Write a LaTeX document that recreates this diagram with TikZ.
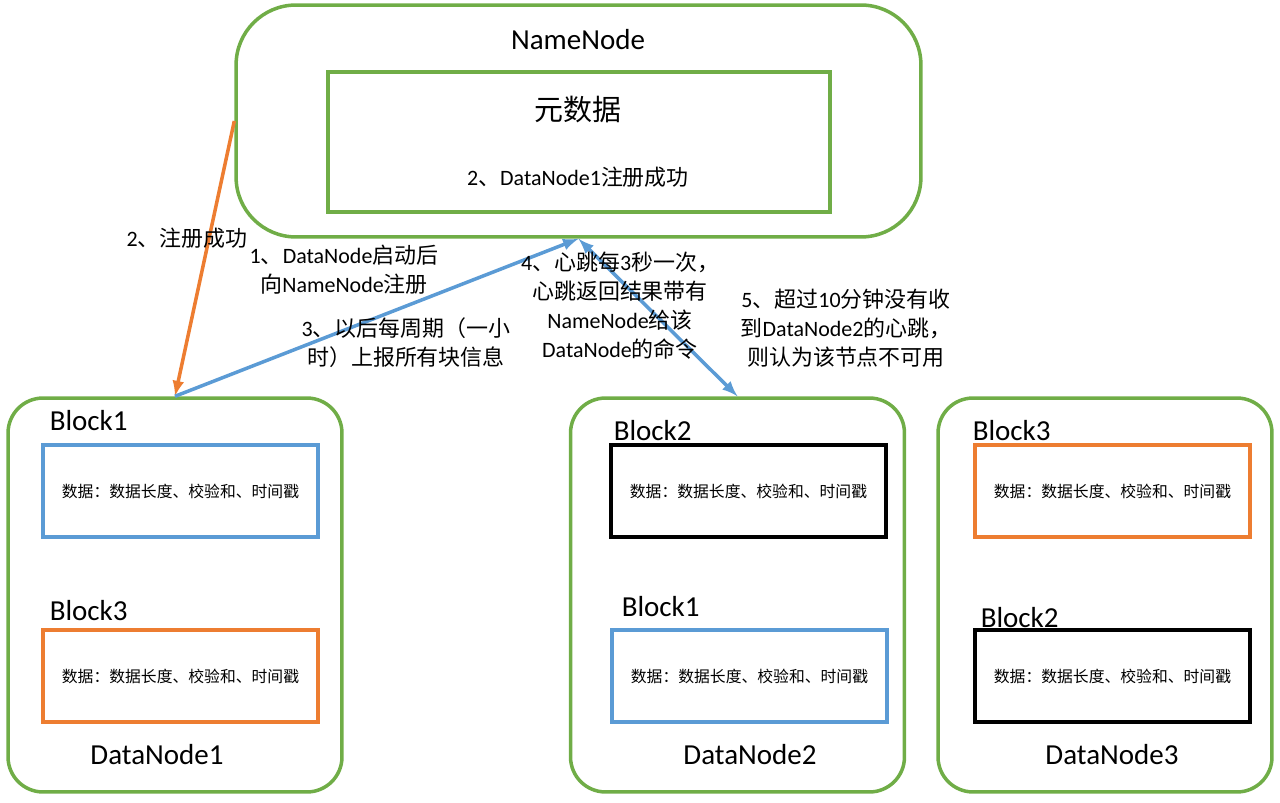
\documentclass[tikz,border=0pt]{standalone}
\usepackage{fontspec}
\setmainfont{Carlito}
\newfontfamily\zh{Noto Sans CJK SC}
\usetikzlibrary{arrows,positioning}
\definecolor{mygreen}{RGB}{112,173,71}
\definecolor{myblue}{RGB}{91,155,213}
\definecolor{myorange}{RGB}{237,125,49}

\begin{document}
\begin{tikzpicture}[
  x=0.02cm,
  y=-0.02cm,
  line width=2pt,
  mybox/.style={
    draw=mygreen,
    rounded corners=#1,
    minimum width=6.68cm,
    minimum height=7.88cm
    },
  mybox/.default=0.7cm,
  myrect/.style={
    draw=#1,
    minimum width=5.5cm,
    minimum height=1.84cm,
    font=\zh\fontsize{9}{11}\selectfont
    },
  mylabel/.style={
    anchor=base west,
    inner sep=0pt,
    font=\fontsize{16.5}{20}\selectfont
    },
  mynote/.style={
    align=center,
    font=\fontsize{12.5}{16.5}\selectfont
    },
  myarrow/.style={
    draw=#1,
    line width=2pt,
    -latex
    }
]
\useasboundingbox (0,0) rectangle (1280,803);

% NameNode
\node[draw=mygreen,rounded corners=1.2cm,minimum width=13.7cm,minimum height=4.64cm]
  (namenode) at (578.5,121) {};
\node[font=\fontsize{16.5}{20}\selectfont] (nnlabel) at (578,40) {NameNode};
\node[draw=mygreen,minimum width=10.04cm,minimum height=2.8cm]
  (meta) at (579,142) {};
\node[font=\zh\fontsize{16.5}{20}\selectfont] (metalabel) at (578,110) {元数据};
\node[mynote] (metanote) at (578,177) {2{\zh 、}DataNode1{\zh 注册成功}};

% DataNodes
\node[mybox] (dn1) at (175,595) {};
\node[mybox] (dn2) at (737.5,595) {};
\node[mybox] (dn3) at (1105,595) {};
\node[font=\fontsize{16.5}{20}\selectfont] (dn1label) at (157,755) {DataNode1};
\node[font=\fontsize{16.5}{20}\selectfont] (dn2label) at (750,755) {DataNode2};
\node[font=\fontsize{16.5}{20}\selectfont] (dn3label) at (1112,755) {DataNode3};

% blocks
\node[myrect=myblue] (dn1b1) at (180.5,491) {数据：数据长度、校验和、时间戳};
\node[myrect=myorange] (dn1b3) at (180.5,676) {数据：数据长度、校验和、时间戳};
\node[myrect=black] (dn2b2) at (748.5,491) {数据：数据长度、校验和、时间戳};
\node[myrect=myblue] (dn2b1) at (749.5,676) {数据：数据长度、校验和、时间戳};
\node[myrect=myorange] (dn3b3) at (1112.5,491) {数据：数据长度、校验和、时间戳};
\node[myrect=black] (dn3b2) at (1112.5,676) {数据：数据长度、校验和、时间戳};
\node[mylabel] (dn1b1label) at (48,430) {Block1};
\node[mylabel] (dn1b3label) at (48,620) {Block3};
\node[mylabel] (dn2b2label) at (612,440) {Block2};
\node[mylabel] (dn2b1label) at (620,616) {Block1};
\node[mylabel] (dn3b3label) at (971,440) {Block3};
\node[mylabel] (dn3b2label) at (979,627) {Block2};

% arrows
\draw[myarrow=myorange] (namenode.west) -- (dn1.north);
\draw[myarrow=myblue] (dn1.north) -- (namenode.south);
\draw[myarrow=myblue,latex-latex] (namenode.south) -- (dn2.north);

% notes
\node[mynote] (note2) at (187,238) {2{\zh 、注册成功}};
\node[mynote] (note1) at (344,270)
  {1{\zh 、}DataNode{\zh 启动后}\\{\zh 向}NameNode{\zh 注册}};
\node[mynote] (note3) at (406,343)
  {3{\zh 、以后每周期（一小}\\{\zh 时）上报所有块信息}};
\node[mynote] (note4) at (620,306)
  {4{\zh 、心跳每}3{\zh 秒一次，}\\{\zh 心跳返回结果带有}\\NameNode{\zh 给该}\\DataNode{\zh 的命令}};
\node[mynote] (note5) at (846,328)
  {5{\zh 、超过}10{\zh 分钟没有收}\\{\zh 到}DataNode2{\zh 的心跳，}\\{\zh 则认为该节点不可用}};
\end{tikzpicture}
\end{document}
